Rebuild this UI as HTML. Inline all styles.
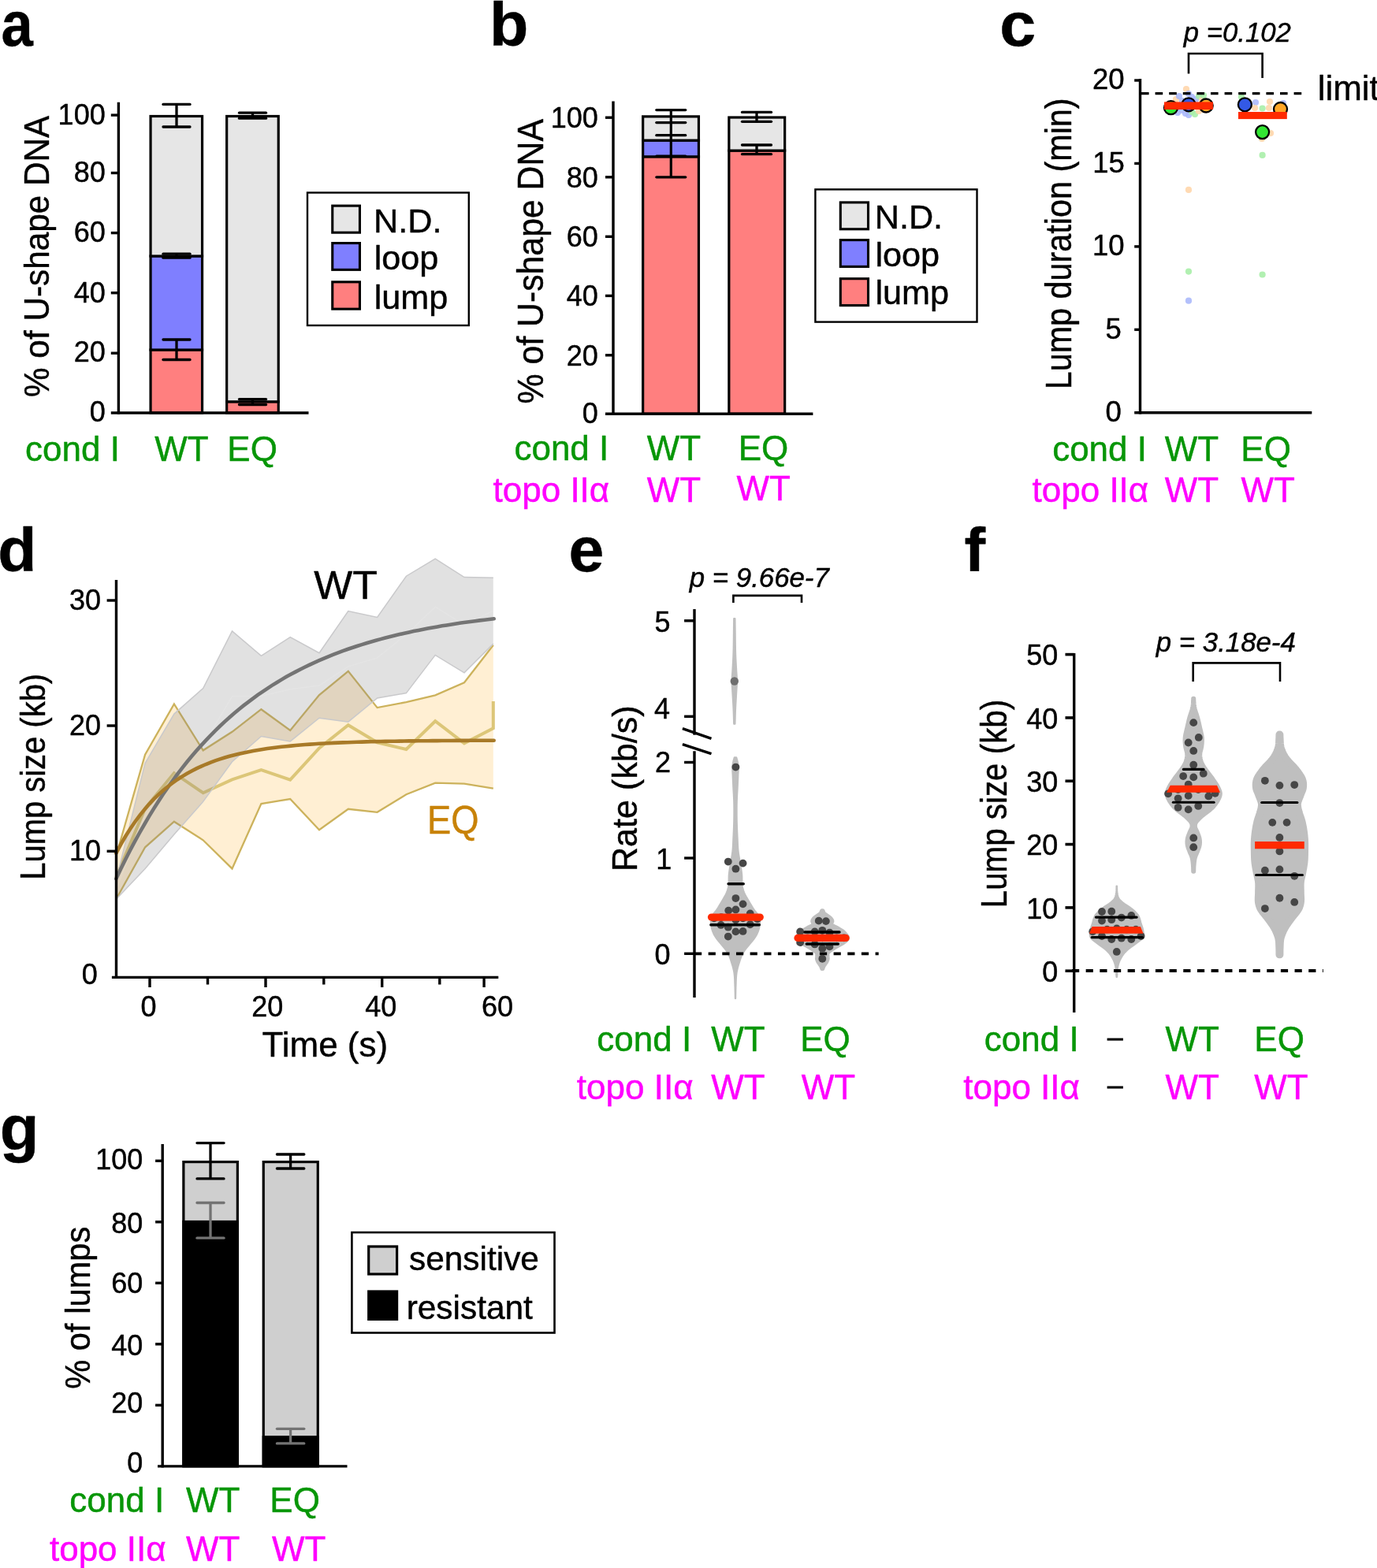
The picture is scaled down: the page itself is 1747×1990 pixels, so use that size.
<!DOCTYPE html>
<html lang="en"><head><meta charset="utf-8"><title>Figure</title>
<style>
html,body{margin:0;padding:0;background:#fff;}
body{width:1747px;height:1990px;overflow:hidden;}
svg{display:block;}
svg text{font-family:"Liberation Sans",sans-serif;white-space:pre;stroke-width:0.45px;stroke-linejoin:round;}
</style></head><body>
<svg width="1747" height="1990" viewBox="0 0 1747 1990">
<rect x="0" y="0" width="1747" height="1990" fill="#fff"/>
<g id="panel-a">
<text transform="translate(1.43,58.00) scale(0.9050,1)" font-size="80.00" fill="#000" stroke="#000" font-weight="bold">a</text>
<rect x="191.05" y="444.00" width="65.50" height="80.00" fill="#ff7f7f" stroke="#000" stroke-width="3.2"/>
<rect x="191.05" y="325.00" width="65.50" height="119.00" fill="#7f7fff" stroke="#000" stroke-width="3.2"/>
<rect x="191.05" y="147.50" width="65.50" height="177.50" fill="#e6e6e6" stroke="#000" stroke-width="3.2"/>
<rect x="287.65" y="509.80" width="65.60" height="14.20" fill="#ff7f7f" stroke="#000" stroke-width="3.2"/>
<rect x="287.65" y="147.50" width="65.60" height="362.30" fill="#e6e6e6" stroke="#000" stroke-width="3.2"/>
<line x1="224.00" y1="132.40" x2="224.00" y2="161.00" stroke="#000" stroke-width="3.3" stroke-linecap="butt"/>
<line x1="207.00" y1="132.40" x2="241.00" y2="132.40" stroke="#000" stroke-width="3.3" stroke-linecap="round"/>
<line x1="207.00" y1="161.00" x2="241.00" y2="161.00" stroke="#000" stroke-width="3.3" stroke-linecap="round"/>
<line x1="224.00" y1="322.20" x2="224.00" y2="327.20" stroke="#000" stroke-width="3.3" stroke-linecap="butt"/>
<line x1="207.00" y1="322.20" x2="241.00" y2="322.20" stroke="#000" stroke-width="3.3" stroke-linecap="round"/>
<line x1="207.00" y1="327.20" x2="241.00" y2="327.20" stroke="#000" stroke-width="3.3" stroke-linecap="round"/>
<line x1="224.00" y1="431.00" x2="224.00" y2="456.50" stroke="#000" stroke-width="3.3" stroke-linecap="butt"/>
<line x1="207.00" y1="431.00" x2="241.00" y2="431.00" stroke="#000" stroke-width="3.3" stroke-linecap="round"/>
<line x1="207.00" y1="456.50" x2="241.00" y2="456.50" stroke="#000" stroke-width="3.3" stroke-linecap="round"/>
<line x1="320.50" y1="143.20" x2="320.50" y2="150.20" stroke="#000" stroke-width="3.3" stroke-linecap="butt"/>
<line x1="303.50" y1="143.20" x2="337.50" y2="143.20" stroke="#000" stroke-width="3.3" stroke-linecap="round"/>
<line x1="303.50" y1="150.20" x2="337.50" y2="150.20" stroke="#000" stroke-width="3.3" stroke-linecap="round"/>
<line x1="320.50" y1="506.60" x2="320.50" y2="513.50" stroke="#000" stroke-width="3.3" stroke-linecap="butt"/>
<line x1="303.50" y1="506.60" x2="337.50" y2="506.60" stroke="#000" stroke-width="3.3" stroke-linecap="round"/>
<line x1="303.50" y1="513.50" x2="337.50" y2="513.50" stroke="#000" stroke-width="3.3" stroke-linecap="round"/>
<line x1="150.40" y1="129.80" x2="150.40" y2="525.70" stroke="#000" stroke-width="3.4" stroke-linecap="butt"/>
<line x1="140.80" y1="524.00" x2="391.50" y2="524.00" stroke="#000" stroke-width="3.4" stroke-linecap="butt"/>
<line x1="140.80" y1="448.20" x2="150.40" y2="448.20" stroke="#000" stroke-width="3.4" stroke-linecap="butt"/>
<line x1="140.80" y1="371.70" x2="150.40" y2="371.70" stroke="#000" stroke-width="3.4" stroke-linecap="butt"/>
<line x1="140.80" y1="295.60" x2="150.40" y2="295.60" stroke="#000" stroke-width="3.4" stroke-linecap="butt"/>
<line x1="140.80" y1="219.50" x2="150.40" y2="219.50" stroke="#000" stroke-width="3.4" stroke-linecap="butt"/>
<line x1="140.80" y1="146.10" x2="150.40" y2="146.10" stroke="#000" stroke-width="3.4" stroke-linecap="butt"/>
<text x="113.67" y="535.08" font-size="36.00" fill="#000" stroke="#000">0</text>
<text x="93.69" y="459.08" font-size="36.00" fill="#000" stroke="#000">20</text>
<text x="93.69" y="383.58" font-size="36.00" fill="#000" stroke="#000">40</text>
<text x="93.69" y="306.78" font-size="36.00" fill="#000" stroke="#000">60</text>
<text x="93.69" y="231.18" font-size="36.00" fill="#000" stroke="#000">80</text>
<text x="73.62" y="158.48" font-size="36.00" fill="#000" stroke="#000">100</text>
<text transform="translate(62.00,503.98) rotate(-90) scale(0.9339,1)" font-size="45.30" fill="#000" stroke="#000">% of U-shape DNA</text>
<text x="32.03" y="584.70" font-size="44.00" fill="#089608" stroke="#089608">cond I</text>
<text x="196.18" y="584.70" font-size="44.00" fill="#089608" stroke="#089608">WT</text>
<text x="288.37" y="584.70" font-size="44.00" fill="#089608" stroke="#089608">EQ</text>
<rect x="390.00" y="244.50" width="204.80" height="168.50" fill="#fff" stroke="#000" stroke-width="2.4"/>
<rect x="421.75" y="261.15" width="34.70" height="34.00" fill="#e6e6e6" stroke="#000" stroke-width="3.1"/>
<rect x="421.75" y="308.55" width="34.70" height="33.80" fill="#7f7fff" stroke="#000" stroke-width="3.1"/>
<rect x="421.75" y="357.85" width="34.70" height="34.30" fill="#ff7f7f" stroke="#000" stroke-width="3.1"/>
<text x="474.04" y="294.50" font-size="43.20" fill="#000" stroke="#000">N.D.</text>
<text x="474.68" y="342.40" font-size="43.20" fill="#000" stroke="#000">loop</text>
<text x="474.68" y="391.80" font-size="43.20" fill="#000" stroke="#000">lump</text>
</g>
<g id="panel-b">
<text transform="translate(621.04,57.60) scale(1.0500,1)" font-size="77.00" fill="#000" stroke="#000" font-weight="bold">b</text>
<rect x="815.65" y="198.83" width="70.80" height="326.37" fill="#ff7f7f" stroke="#000" stroke-width="3.2"/>
<rect x="815.65" y="178.15" width="70.80" height="20.68" fill="#7f7fff" stroke="#000" stroke-width="3.2"/>
<rect x="815.65" y="147.88" width="70.80" height="30.27" fill="#e6e6e6" stroke="#000" stroke-width="3.2"/>
<rect x="924.85" y="191.12" width="70.80" height="334.08" fill="#ff7f7f" stroke="#000" stroke-width="3.2"/>
<rect x="924.85" y="149.01" width="70.80" height="42.11" fill="#e6e6e6" stroke="#000" stroke-width="3.2"/>
<line x1="851.30" y1="139.60" x2="851.30" y2="224.80" stroke="#000" stroke-width="3.2" stroke-linecap="butt"/>
<line x1="832.80" y1="139.60" x2="869.80" y2="139.60" stroke="#000" stroke-width="3.2" stroke-linecap="round"/>
<line x1="832.80" y1="155.60" x2="869.80" y2="155.60" stroke="#000" stroke-width="3.2" stroke-linecap="round"/>
<line x1="832.80" y1="171.70" x2="869.80" y2="171.70" stroke="#000" stroke-width="3.2" stroke-linecap="round"/>
<line x1="832.80" y1="198.00" x2="869.80" y2="198.00" stroke="#000" stroke-width="3.2" stroke-linecap="round"/>
<line x1="832.80" y1="224.80" x2="869.80" y2="224.80" stroke="#000" stroke-width="3.2" stroke-linecap="round"/>
<line x1="960.00" y1="142.40" x2="960.00" y2="154.30" stroke="#000" stroke-width="3.3" stroke-linecap="butt"/>
<line x1="941.50" y1="142.40" x2="978.50" y2="142.40" stroke="#000" stroke-width="3.3" stroke-linecap="round"/>
<line x1="941.50" y1="154.30" x2="978.50" y2="154.30" stroke="#000" stroke-width="3.3" stroke-linecap="round"/>
<line x1="960.00" y1="184.00" x2="960.00" y2="195.70" stroke="#000" stroke-width="3.3" stroke-linecap="butt"/>
<line x1="941.50" y1="184.00" x2="978.50" y2="184.00" stroke="#000" stroke-width="3.3" stroke-linecap="round"/>
<line x1="941.50" y1="195.70" x2="978.50" y2="195.70" stroke="#000" stroke-width="3.3" stroke-linecap="round"/>
<line x1="778.00" y1="128.60" x2="778.00" y2="526.90" stroke="#000" stroke-width="3.4" stroke-linecap="butt"/>
<line x1="768.00" y1="525.20" x2="1031.40" y2="525.20" stroke="#000" stroke-width="3.4" stroke-linecap="butt"/>
<line x1="768.00" y1="450.80" x2="778.00" y2="450.80" stroke="#000" stroke-width="3.4" stroke-linecap="butt"/>
<line x1="768.00" y1="375.40" x2="778.00" y2="375.40" stroke="#000" stroke-width="3.4" stroke-linecap="butt"/>
<line x1="768.00" y1="300.30" x2="778.00" y2="300.30" stroke="#000" stroke-width="3.4" stroke-linecap="butt"/>
<line x1="768.00" y1="224.80" x2="778.00" y2="224.80" stroke="#000" stroke-width="3.4" stroke-linecap="butt"/>
<line x1="768.00" y1="149.20" x2="778.00" y2="149.20" stroke="#000" stroke-width="3.4" stroke-linecap="butt"/>
<text x="738.77" y="537.28" font-size="36.00" fill="#000" stroke="#000">0</text>
<text x="718.79" y="463.68" font-size="36.00" fill="#000" stroke="#000">20</text>
<text x="718.79" y="388.18" font-size="36.00" fill="#000" stroke="#000">40</text>
<text x="718.79" y="312.98" font-size="36.00" fill="#000" stroke="#000">60</text>
<text x="718.79" y="237.68" font-size="36.00" fill="#000" stroke="#000">80</text>
<text x="698.72" y="161.98" font-size="36.00" fill="#000" stroke="#000">100</text>
<text transform="translate(689.20,512.40) rotate(-90) scale(0.9444,1)" font-size="45.30" fill="#000" stroke="#000">% of U-shape DNA</text>
<text x="652.43" y="584.30" font-size="44.00" fill="#089608" stroke="#089608">cond I</text>
<text x="820.78" y="584.30" font-size="44.00" fill="#089608" stroke="#089608">WT</text>
<text x="936.67" y="584.30" font-size="44.00" fill="#089608" stroke="#089608">EQ</text>
<text x="625.54" y="637.00" font-size="44.00" fill="#ff00ff" stroke="#ff00ff">topo IIα</text>
<text x="820.78" y="637.00" font-size="44.00" fill="#ff00ff" stroke="#ff00ff">WT</text>
<text x="934.58" y="635.10" font-size="44.00" fill="#ff00ff" stroke="#ff00ff">WT</text>
<rect x="1034.40" y="240.40" width="205.10" height="168.20" fill="#fff" stroke="#000" stroke-width="2.4"/>
<rect x="1066.30" y="256.90" width="35.20" height="33.90" fill="#e6e6e6" stroke="#000" stroke-width="3.1"/>
<rect x="1066.30" y="304.60" width="35.20" height="33.80" fill="#7f7fff" stroke="#000" stroke-width="3.1"/>
<rect x="1066.30" y="353.70" width="35.20" height="33.90" fill="#ff7f7f" stroke="#000" stroke-width="3.1"/>
<text x="1109.74" y="289.60" font-size="43.20" fill="#000" stroke="#000">N.D.</text>
<text x="1110.38" y="337.90" font-size="43.20" fill="#000" stroke="#000">loop</text>
<text x="1110.38" y="386.30" font-size="43.20" fill="#000" stroke="#000">lump</text>
</g>
<g id="panel-c">
<text transform="translate(1268.29,57.80) scale(1.0500,1)" font-size="78.70" fill="#000" stroke="#000" font-weight="bold">c</text>
<circle cx="1492.00" cy="126.00" r="4.10" fill="#ffd5a8" fill-opacity="0.88"/>
<circle cx="1496.00" cy="122.00" r="4.10" fill="#a9b7fa" fill-opacity="0.88"/>
<circle cx="1500.00" cy="128.00" r="4.10" fill="#a9b7fa" fill-opacity="0.88"/>
<circle cx="1505.00" cy="113.00" r="4.10" fill="#ffd5a8" fill-opacity="0.88"/>
<circle cx="1508.00" cy="119.00" r="4.10" fill="#a9b7fa" fill-opacity="0.88"/>
<circle cx="1512.00" cy="123.00" r="4.10" fill="#a9b7fa" fill-opacity="0.88"/>
<circle cx="1517.00" cy="126.00" r="4.10" fill="#a9b7fa" fill-opacity="0.88"/>
<circle cx="1521.00" cy="122.00" r="4.10" fill="#a6eea6" fill-opacity="0.88"/>
<circle cx="1525.00" cy="127.00" r="4.10" fill="#ffd5a8" fill-opacity="0.88"/>
<circle cx="1494.00" cy="143.00" r="4.10" fill="#a9b7fa" fill-opacity="0.88"/>
<circle cx="1499.00" cy="140.00" r="4.10" fill="#a9b7fa" fill-opacity="0.88"/>
<circle cx="1504.00" cy="144.00" r="4.10" fill="#a9b7fa" fill-opacity="0.88"/>
<circle cx="1508.00" cy="146.00" r="4.10" fill="#a9b7fa" fill-opacity="0.88"/>
<circle cx="1512.00" cy="142.00" r="4.10" fill="#a6eea6" fill-opacity="0.88"/>
<circle cx="1516.00" cy="145.00" r="4.10" fill="#a6eea6" fill-opacity="0.88"/>
<circle cx="1521.00" cy="141.00" r="4.10" fill="#ffd5a8" fill-opacity="0.88"/>
<circle cx="1526.00" cy="139.00" r="4.10" fill="#ffd5a8" fill-opacity="0.88"/>
<circle cx="1489.00" cy="131.00" r="4.10" fill="#ffd5a8" fill-opacity="0.88"/>
<circle cx="1527.00" cy="121.00" r="4.10" fill="#a6eea6" fill-opacity="0.88"/>
<circle cx="1508.00" cy="240.90" r="4.10" fill="#ffd5a8" fill-opacity="0.88"/>
<circle cx="1508.00" cy="344.60" r="4.10" fill="#a6eea6" fill-opacity="0.88"/>
<circle cx="1508.00" cy="381.70" r="4.10" fill="#a9b7fa" fill-opacity="0.88"/>
<circle cx="1575.00" cy="123.00" r="4.10" fill="#a6eea6" fill-opacity="0.88"/>
<circle cx="1593.00" cy="130.00" r="4.10" fill="#a9b7fa" fill-opacity="0.88"/>
<circle cx="1611.00" cy="129.00" r="4.10" fill="#ffd5a8" fill-opacity="0.88"/>
<circle cx="1592.00" cy="137.00" r="4.10" fill="#ffd5a8" fill-opacity="0.88"/>
<circle cx="1601.60" cy="137.50" r="4.10" fill="#a6eea6" fill-opacity="0.88"/>
<circle cx="1610.00" cy="137.00" r="4.10" fill="#ffd5a8" fill-opacity="0.88"/>
<circle cx="1628.00" cy="131.00" r="4.10" fill="#a9b7fa" fill-opacity="0.88"/>
<circle cx="1605.00" cy="170.00" r="4.10" fill="#ffd5a8" fill-opacity="0.88"/>
<circle cx="1612.00" cy="169.00" r="4.10" fill="#ffd5a8" fill-opacity="0.88"/>
<circle cx="1601.00" cy="176.00" r="4.10" fill="#ffd5a8" fill-opacity="0.88"/>
<circle cx="1601.60" cy="196.90" r="4.10" fill="#a6eea6" fill-opacity="0.88"/>
<circle cx="1601.60" cy="348.50" r="4.10" fill="#a6eea6" fill-opacity="0.88"/>
<line x1="1448.00" y1="118.60" x2="1651.50" y2="118.60" stroke="#000" stroke-width="3.2" stroke-linecap="butt" stroke-dasharray="9.6 8.0"/>
<circle cx="1485.50" cy="136.70" r="8.50" fill="#33e633" stroke="#000" stroke-width="2.3"/>
<circle cx="1508.00" cy="132.80" r="8.50" fill="#3359e6" stroke="#000" stroke-width="2.3"/>
<circle cx="1530.20" cy="134.00" r="8.50" fill="#ffa626" stroke="#000" stroke-width="2.3"/>
<circle cx="1579.40" cy="132.80" r="8.50" fill="#3359e6" stroke="#000" stroke-width="2.3"/>
<circle cx="1624.50" cy="138.50" r="8.50" fill="#ffa626" stroke="#000" stroke-width="2.3"/>
<circle cx="1601.60" cy="167.60" r="8.50" fill="#33e633" stroke="#000" stroke-width="2.3"/>
<rect x="1477.00" y="129.40" width="61.90" height="9.60" fill="#ff2a00"/>
<rect x="1571.00" y="142.00" width="61.80" height="9.10" fill="#ff2a00"/>
<path d="M1508,93.6 V68 H1601.6 V99.0" fill="none" stroke="#000" stroke-width="2.6"/>
<text x="1501.87" y="52.90" font-size="34.70" fill="#000" stroke="#000" font-style="italic">p =0.102</text>
<text x="1671.63" y="127.20" font-size="44.00" fill="#000" stroke="#000">limit</text>
<line x1="1446.50" y1="100.00" x2="1446.50" y2="525.50" stroke="#000" stroke-width="3.4" stroke-linecap="butt"/>
<line x1="1439.20" y1="523.80" x2="1664.30" y2="523.80" stroke="#000" stroke-width="3.4" stroke-linecap="butt"/>
<line x1="1439.20" y1="418.35" x2="1446.50" y2="418.35" stroke="#000" stroke-width="3.4" stroke-linecap="butt"/>
<line x1="1439.20" y1="312.90" x2="1446.50" y2="312.90" stroke="#000" stroke-width="3.4" stroke-linecap="butt"/>
<line x1="1439.20" y1="207.45" x2="1446.50" y2="207.45" stroke="#000" stroke-width="3.4" stroke-linecap="butt"/>
<line x1="1439.20" y1="102.00" x2="1446.50" y2="102.00" stroke="#000" stroke-width="3.4" stroke-linecap="butt"/>
<text x="1402.41" y="535.16" font-size="36.50" fill="#000" stroke="#000">0</text>
<text x="1402.50" y="429.71" font-size="36.50" fill="#000" stroke="#000">5</text>
<text x="1386.05" y="324.26" font-size="36.50" fill="#000" stroke="#000">10</text>
<text x="1386.14" y="218.81" font-size="36.50" fill="#000" stroke="#000">15</text>
<text x="1386.05" y="113.36" font-size="36.50" fill="#000" stroke="#000">20</text>
<text transform="translate(1359.30,494.31) rotate(-90) scale(0.9126,1)" font-size="45.30" fill="#000" stroke="#000">Lump duration (min)</text>
<text x="1335.13" y="584.90" font-size="44.00" fill="#089608" stroke="#089608">cond I</text>
<text x="1477.68" y="584.90" font-size="44.00" fill="#089608" stroke="#089608">WT</text>
<text x="1574.37" y="584.90" font-size="44.00" fill="#089608" stroke="#089608">EQ</text>
<text x="1309.54" y="637.00" font-size="44.00" fill="#ff00ff" stroke="#ff00ff">topo IIα</text>
<text x="1477.68" y="637.00" font-size="44.00" fill="#ff00ff" stroke="#ff00ff">WT</text>
<text x="1574.58" y="637.00" font-size="44.00" fill="#ff00ff" stroke="#ff00ff">WT</text>
</g>
<g id="panel-d">
<text transform="translate(-2.73,725.00) scale(1.0400,1)" font-size="77.50" fill="#000" stroke="#000" font-weight="bold">d</text>
<path d="M147.3,1086.2 L184.1,957.7 L220.9,893.5 L257.7,952.3 L294.5,928.8 L331.4,900.2 L368.2,926.9 L405.0,882.0 L441.8,851.9 L478.6,898.1 L515.4,891.1 L552.2,882.4 L589.0,866.3 L625.8,818.7 L625.8,1000.7 L589.0,994.6 L552.2,993.6 L515.4,1008.3 L478.6,1030.8 L441.8,1026.8 L405.0,1053.3 L368.2,1014.0 L331.4,1020.1 L294.5,1102.4 L257.7,1066.3 L220.9,1042.7 L184.1,1075.3 L147.3,1141.3Z" fill="#ffefd3"/>
<path d="M147.3,1086.2 L184.1,957.7 L220.9,893.5 L257.7,952.3 L294.5,928.8 L331.4,900.2 L368.2,926.9 L405.0,882.0 L441.8,851.9 L478.6,898.1 L515.4,891.1 L552.2,882.4 L589.0,866.3 L625.8,818.7" fill="none" stroke="#ccb25c" stroke-width="2.3" stroke-linejoin="miter"/>
<path d="M147.3,1141.3 L184.1,1075.3 L220.9,1042.7 L257.7,1066.3 L294.5,1102.4 L331.4,1020.1 L368.2,1014.0 L405.0,1053.3 L441.8,1026.8 L478.6,1030.8 L515.4,1008.3 L552.2,993.6 L589.0,994.6 L625.8,1000.7" fill="none" stroke="#ccb25c" stroke-width="2.3" stroke-linejoin="miter"/>
<path d="M147.3,1113.3 L184.1,1026.0 L220.9,981.2 L257.7,1006.2 L294.5,989.4 L331.4,977.2 L368.2,989.7 L405.0,949.4 L441.8,920.2 L478.6,942.3 L515.4,951.0 L552.2,915.2 L589.0,943.4 L625.8,924.3 L625.8,890.1" fill="none" stroke="#dcc678" stroke-width="4.0" stroke-linejoin="miter"/>
<path d="M147.3,1116.9 L184.1,968.6 L220.9,906.1 L257.7,873.6 L294.5,801.0 L331.4,832.3 L368.2,808.6 L405.0,828.7 L441.8,775.5 L478.6,783.5 L515.4,731.2 L552.2,709.1 L589.0,732.6 L625.8,733.2 L625.8,817.1 L589.0,853.9 L552.2,831.4 L515.4,879.6 L478.6,886.0 L441.8,916.2 L405.0,911.2 L368.2,940.9 L331.4,934.5 L294.5,966.7 L257.7,1017.4 L220.9,1059.0 L184.1,1102.4 L147.3,1141.3Z" fill="#808080" fill-opacity="0.235"/>
<path d="M147.3,1116.9 L184.1,968.6 L220.9,906.1 L257.7,873.6 L294.5,801.0 L331.4,832.3 L368.2,808.6 L405.0,828.7 L441.8,775.5 L478.6,783.5 L515.4,731.2 L552.2,709.1 L589.0,732.6 L625.8,733.2" fill="none" stroke="#c9c9cb" stroke-width="1.5"/>
<path d="M147.3,1141.3 L184.1,1102.4 L220.9,1059.0 L257.7,1017.4 L294.5,966.7 L331.4,934.5 L368.2,940.9 L405.0,911.2 L441.8,916.2 L478.6,886.0 L515.4,879.6 L552.2,831.4 L589.0,853.9 L625.8,817.1" fill="none" stroke="#c9c9cb" stroke-width="1.5"/>
<path d="M147.3,1129.1 L184.1,1035.5 L220.9,982.5 L257.7,945.5 L294.5,883.9 L331.4,883.4 L368.2,874.8 L405.0,870.0 L441.8,845.9 L478.6,834.8 L515.4,805.4 L552.2,770.2 L589.0,793.2 L625.8,775.2" fill="none" stroke="#ffffff" stroke-width="1.4" stroke-opacity="0.13"/>
<path d="M147.3,1115.3 L153.3,1102.6 L159.3,1090.4 L165.3,1078.7 L171.3,1067.4 L177.3,1056.5 L183.3,1046.0 L189.2,1035.9 L195.2,1026.1 L201.2,1016.7 L207.2,1007.6 L213.2,998.9 L219.2,990.5 L225.2,982.4 L231.2,974.6 L237.2,967.0 L243.2,959.8 L249.2,952.8 L255.2,946.1 L261.2,939.6 L267.2,933.3 L273.1,927.3 L279.1,921.5 L285.1,915.9 L291.1,910.5 L297.1,905.3 L303.1,900.2 L309.1,895.4 L315.1,890.8 L321.1,886.3 L327.1,881.9 L333.1,877.8 L339.1,873.8 L345.1,869.9 L351.1,866.2 L357.0,862.6 L363.0,859.1 L369.0,855.8 L375.0,852.6 L381.0,849.5 L387.0,846.5 L393.0,843.6 L399.0,840.8 L405.0,838.2 L411.0,835.6 L417.0,833.1 L423.0,830.7 L429.0,828.4 L434.9,826.2 L440.9,824.0 L446.9,822.0 L452.9,820.0 L458.9,818.1 L464.9,816.2 L470.9,814.5 L476.9,812.7 L482.9,811.1 L488.9,809.5 L494.9,808.0 L500.9,806.5 L506.9,805.1 L512.9,803.7 L518.8,802.4 L524.8,801.1 L530.8,799.9 L536.8,798.7 L542.8,797.5 L548.8,796.4 L554.8,795.4 L560.8,794.3 L566.8,793.4 L572.8,792.4 L578.8,791.5 L584.8,790.6 L590.8,789.8 L596.8,789.0 L602.7,788.2 L608.7,787.4 L614.7,786.7 L620.7,786.0 L626.7,785.3" fill="none" stroke="#747474" stroke-width="4.6" stroke-linecap="round"/>
<path d="M147.3,1082.8 L153.3,1071.6 L159.3,1061.3 L165.3,1051.7 L171.3,1043.0 L177.3,1034.9 L183.3,1027.4 L189.2,1020.6 L195.2,1014.2 L201.2,1008.4 L207.2,1003.0 L213.2,998.0 L219.2,993.5 L225.2,989.2 L231.2,985.4 L237.2,981.8 L243.2,978.5 L249.2,975.4 L255.2,972.6 L261.2,970.0 L267.2,967.6 L273.1,965.4 L279.1,963.4 L285.1,961.5 L291.1,959.8 L297.1,958.2 L303.1,956.8 L309.1,955.4 L315.1,954.2 L321.1,953.0 L327.1,952.0 L333.1,951.0 L339.1,950.1 L345.1,949.3 L351.1,948.5 L357.0,947.8 L363.0,947.2 L369.0,946.6 L375.0,946.0 L381.0,945.5 L387.0,945.0 L393.0,944.6 L399.0,944.2 L405.0,943.8 L411.0,943.5 L417.0,943.2 L423.0,942.9 L429.0,942.6 L434.9,942.4 L440.9,942.2 L446.9,942.0 L452.9,941.8 L458.9,941.6 L464.9,941.4 L470.9,941.3 L476.9,941.1 L482.9,941.0 L488.9,940.9 L494.9,940.8 L500.9,940.7 L506.9,940.6 L512.9,940.5 L518.8,940.4 L524.8,940.4 L530.8,940.3 L536.8,940.2 L542.8,940.2 L548.8,940.1 L554.8,940.1 L560.8,940.0 L566.8,940.0 L572.8,940.0 L578.8,939.9 L584.8,939.9 L590.8,939.9 L596.8,939.8 L602.7,939.8 L608.7,939.8 L614.7,939.8 L620.7,939.7 L626.7,939.7" fill="none" stroke="#a87a28" stroke-width="4.6" stroke-linecap="round"/>
<text transform="translate(398.24,759.70) scale(1.0300,1)" font-size="50.40" fill="#000" stroke="#000">WT</text>
<text transform="translate(542.06,1058.00) scale(0.9000,1)" font-size="50.40" fill="#c88208" stroke="#c88208">EQ</text>
<line x1="147.50" y1="736.10" x2="147.50" y2="1242.10" stroke="#000" stroke-width="3.4" stroke-linecap="butt"/>
<line x1="141.90" y1="1240.40" x2="632.30" y2="1240.40" stroke="#000" stroke-width="3.4" stroke-linecap="butt"/>
<line x1="135.60" y1="1080.30" x2="147.50" y2="1080.30" stroke="#000" stroke-width="3.4" stroke-linecap="butt"/>
<line x1="135.60" y1="921.00" x2="147.50" y2="921.00" stroke="#000" stroke-width="3.4" stroke-linecap="butt"/>
<line x1="135.60" y1="762.00" x2="147.50" y2="762.00" stroke="#000" stroke-width="3.4" stroke-linecap="butt"/>
<text x="103.67" y="1248.50" font-size="36.00" fill="#000" stroke="#000">0</text>
<text x="87.99" y="1091.80" font-size="36.00" fill="#000" stroke="#000">10</text>
<text x="87.99" y="932.50" font-size="36.00" fill="#000" stroke="#000">20</text>
<text x="87.99" y="773.50" font-size="36.00" fill="#000" stroke="#000">30</text>
<line x1="190.00" y1="1240.40" x2="190.00" y2="1253.00" stroke="#000" stroke-width="3.4" stroke-linecap="butt"/>
<line x1="263.50" y1="1240.40" x2="263.50" y2="1249.50" stroke="#000" stroke-width="3.4" stroke-linecap="butt"/>
<line x1="337.00" y1="1240.40" x2="337.00" y2="1253.00" stroke="#000" stroke-width="3.4" stroke-linecap="butt"/>
<line x1="410.80" y1="1240.40" x2="410.80" y2="1249.50" stroke="#000" stroke-width="3.4" stroke-linecap="butt"/>
<line x1="484.70" y1="1240.40" x2="484.70" y2="1253.00" stroke="#000" stroke-width="3.4" stroke-linecap="butt"/>
<line x1="557.80" y1="1240.40" x2="557.80" y2="1249.50" stroke="#000" stroke-width="3.4" stroke-linecap="butt"/>
<line x1="614.10" y1="1240.40" x2="614.10" y2="1253.00" stroke="#000" stroke-width="3.4" stroke-linecap="butt"/>
<text x="178.56" y="1289.70" font-size="36.00" fill="#000" stroke="#000">0</text>
<text x="319.19" y="1289.70" font-size="36.00" fill="#000" stroke="#000">20</text>
<text x="463.29" y="1289.70" font-size="36.00" fill="#000" stroke="#000">40</text>
<text x="611.09" y="1289.70" font-size="36.00" fill="#000" stroke="#000">60</text>
<text x="332.51" y="1340.50" font-size="44.00" fill="#000" stroke="#000">Time (s)</text>
<text transform="translate(57.40,1116.80) rotate(-90) scale(0.8820,1)" font-size="45.30" fill="#000" stroke="#000">Lump size (kb)</text>
</g>
<g id="panel-e">
<text transform="translate(721.58,725.00) scale(1.0200,1)" font-size="79.00" fill="#000" stroke="#000" font-weight="bold">e</text>
<path d="M932.50,784.90 L932.52,786.40 L932.54,787.90 L932.56,789.40 L932.58,790.90 L932.60,792.40 L932.62,793.90 L932.64,795.40 L932.66,796.90 L932.68,798.40 L932.70,799.90 L932.72,801.40 L932.74,802.90 L932.76,804.40 L932.78,805.90 L932.79,807.40 L932.81,808.90 L932.83,810.40 L932.84,811.90 L932.86,813.40 L932.88,814.90 L932.90,816.40 L932.92,817.90 L932.95,819.40 L932.97,820.90 L933.00,822.40 L933.03,823.90 L933.07,825.40 L933.11,826.90 L933.15,828.40 L933.20,829.90 L933.25,831.40 L933.31,832.90 L933.37,834.40 L933.44,835.90 L933.52,837.40 L933.59,838.90 L933.67,840.40 L933.76,841.90 L933.84,843.40 L933.92,844.90 L934.00,846.40 L934.09,847.90 L934.17,849.40 L934.25,850.90 L934.35,852.40 L934.45,853.90 L934.56,855.40 L934.67,856.90 L934.77,858.40 L934.86,859.90 L934.93,861.40 L934.98,862.90 L935.00,864.40 L934.99,865.90 L934.95,867.40 L934.89,868.90 L934.82,870.40 L934.73,871.90 L934.63,873.40 L934.53,874.90 L934.42,876.40 L934.32,877.90 L934.23,879.40 L934.15,880.90 L934.07,882.40 L933.98,883.90 L933.90,885.40 L933.81,886.90 L933.72,888.40 L933.63,889.90 L933.54,891.40 L933.46,892.90 L933.38,894.40 L933.30,895.90 L933.22,897.40 L933.15,898.90 L933.08,900.40 L933.02,901.90 L932.96,903.40 L932.91,904.90 L932.86,906.40 L932.82,907.90 L932.77,909.40 L932.73,910.90 L932.69,912.40 L932.64,913.90 L932.60,915.40 L932.56,916.90 L932.51,918.40 L932.50,918.70 L931.10,918.70 L931.09,918.40 L931.04,916.90 L931.00,915.40 L930.96,913.90 L930.91,912.40 L930.87,910.90 L930.83,909.40 L930.78,907.90 L930.74,906.40 L930.69,904.90 L930.64,903.40 L930.58,901.90 L930.52,900.40 L930.45,898.90 L930.38,897.40 L930.30,895.90 L930.22,894.40 L930.14,892.90 L930.06,891.40 L929.97,889.90 L929.88,888.40 L929.79,886.90 L929.70,885.40 L929.62,883.90 L929.53,882.40 L929.45,880.90 L929.37,879.40 L929.28,877.90 L929.18,876.40 L929.07,874.90 L928.97,873.40 L928.87,871.90 L928.78,870.40 L928.71,868.90 L928.65,867.40 L928.61,865.90 L928.60,864.40 L928.62,862.90 L928.67,861.40 L928.74,859.90 L928.83,858.40 L928.93,856.90 L929.04,855.40 L929.15,853.90 L929.25,852.40 L929.35,850.90 L929.43,849.40 L929.51,847.90 L929.60,846.40 L929.68,844.90 L929.76,843.40 L929.84,841.90 L929.93,840.40 L930.01,838.90 L930.08,837.40 L930.16,835.90 L930.23,834.40 L930.29,832.90 L930.35,831.40 L930.40,829.90 L930.45,828.40 L930.49,826.90 L930.53,825.40 L930.57,823.90 L930.60,822.40 L930.63,820.90 L930.65,819.40 L930.68,817.90 L930.70,816.40 L930.72,814.90 L930.74,813.40 L930.76,811.90 L930.77,810.40 L930.79,808.90 L930.81,807.40 L930.82,805.90 L930.84,804.40 L930.86,802.90 L930.88,801.40 L930.90,799.90 L930.92,798.40 L930.94,796.90 L930.96,795.40 L930.98,793.90 L931.00,792.40 L931.02,790.90 L931.04,789.40 L931.06,787.90 L931.08,786.40 L931.10,784.90Z" fill="#bfbfbf" stroke="#bfbfbf" stroke-width="2.0" stroke-linejoin="round"/>
<circle cx="931.80" cy="864.50" r="5.20" fill="#6e6e6e"/>
<path d="M934.20,961.40 L934.64,962.90 L935.09,964.40 L935.48,965.90 L935.80,967.40 L936.09,968.90 L936.33,970.40 L936.52,971.90 L936.63,973.40 L936.67,974.90 L936.66,976.40 L936.62,977.90 L936.54,979.40 L936.45,980.90 L936.37,982.40 L936.30,983.90 L936.25,985.40 L936.19,986.90 L936.13,988.40 L936.07,989.90 L936.00,991.40 L935.93,992.90 L935.86,994.40 L935.80,995.90 L935.72,997.40 L935.65,998.90 L935.57,1000.40 L935.49,1001.90 L935.40,1003.40 L935.32,1004.90 L935.24,1006.40 L935.15,1007.90 L935.07,1009.40 L935.00,1010.90 L934.93,1012.40 L934.86,1013.90 L934.80,1015.40 L934.75,1016.90 L934.71,1018.40 L934.67,1019.90 L934.64,1021.40 L934.62,1022.90 L934.60,1024.40 L934.59,1025.90 L934.58,1027.40 L934.58,1028.90 L934.58,1030.40 L934.58,1031.90 L934.59,1033.40 L934.60,1034.90 L934.62,1036.40 L934.64,1037.90 L934.66,1039.40 L934.69,1040.90 L934.72,1042.40 L934.75,1043.90 L934.79,1045.40 L934.84,1046.90 L934.89,1048.40 L934.94,1049.90 L935.00,1051.40 L935.06,1052.90 L935.12,1054.40 L935.19,1055.90 L935.26,1057.40 L935.33,1058.90 L935.40,1060.40 L935.47,1061.90 L935.55,1063.40 L935.62,1064.90 L935.69,1066.40 L935.75,1067.90 L935.81,1069.40 L935.87,1070.90 L935.94,1072.40 L936.02,1073.90 L936.11,1075.40 L936.21,1076.90 L936.34,1078.40 L936.49,1079.90 L936.67,1081.40 L936.87,1082.90 L937.10,1084.40 L937.35,1085.90 L937.61,1087.40 L937.87,1088.90 L938.14,1090.40 L938.40,1091.90 L938.66,1093.40 L938.90,1094.90 L939.14,1096.40 L939.38,1097.90 L939.63,1099.40 L939.88,1100.90 L940.12,1102.40 L940.35,1103.90 L940.57,1105.40 L940.78,1106.90 L940.96,1108.40 L941.11,1109.90 L941.21,1111.40 L941.27,1112.90 L941.29,1114.40 L941.28,1115.90 L941.28,1117.40 L941.28,1118.90 L941.32,1120.40 L941.40,1121.90 L941.53,1123.40 L941.75,1124.90 L942.04,1126.40 L942.41,1127.90 L942.85,1129.40 L943.35,1130.90 L943.92,1132.40 L944.57,1133.90 L945.30,1135.40 L946.09,1136.90 L946.90,1138.40 L947.72,1139.90 L948.56,1141.40 L949.44,1142.90 L950.33,1144.40 L951.23,1145.90 L952.14,1147.40 L953.04,1148.90 L953.94,1150.40 L954.86,1151.90 L955.83,1153.40 L956.86,1154.90 L958.03,1156.40 L959.30,1157.90 L960.57,1159.40 L961.75,1160.90 L962.74,1162.40 L963.44,1163.90 L963.84,1165.40 L964.03,1166.90 L964.08,1168.40 L964.11,1169.90 L964.06,1171.40 L963.93,1172.90 L963.73,1174.40 L963.46,1175.90 L963.15,1177.40 L962.78,1178.90 L962.34,1180.40 L961.84,1181.90 L961.25,1183.40 L960.57,1184.90 L959.79,1186.40 L958.93,1187.90 L957.99,1189.40 L956.99,1190.90 L955.92,1192.40 L954.75,1193.90 L953.51,1195.40 L952.24,1196.90 L950.99,1198.40 L949.76,1199.90 L948.51,1201.40 L947.25,1202.90 L946.04,1204.40 L944.91,1205.90 L943.91,1207.40 L943.01,1208.90 L942.18,1210.40 L941.43,1211.90 L940.72,1213.40 L940.08,1214.90 L939.51,1216.40 L939.00,1217.90 L938.53,1219.40 L938.06,1220.90 L937.58,1222.40 L937.10,1223.90 L936.64,1225.40 L936.20,1226.90 L935.80,1228.40 L935.44,1229.90 L935.11,1231.40 L934.82,1232.90 L934.56,1234.40 L934.35,1235.90 L934.18,1237.40 L934.04,1238.90 L933.92,1240.40 L933.83,1241.90 L933.76,1243.40 L933.70,1244.90 L933.65,1246.40 L933.61,1247.90 L933.56,1249.40 L933.50,1250.90 L933.45,1252.40 L933.40,1253.90 L933.36,1255.40 L933.32,1256.90 L933.28,1258.40 L933.25,1259.90 L933.22,1261.40 L933.19,1262.90 L933.16,1264.40 L933.13,1265.90 L933.10,1267.10 L932.90,1267.10 L932.87,1265.90 L932.84,1264.40 L932.81,1262.90 L932.78,1261.40 L932.75,1259.90 L932.72,1258.40 L932.68,1256.90 L932.64,1255.40 L932.60,1253.90 L932.55,1252.40 L932.50,1250.90 L932.44,1249.40 L932.39,1247.90 L932.35,1246.40 L932.30,1244.90 L932.24,1243.40 L932.17,1241.90 L932.08,1240.40 L931.96,1238.90 L931.82,1237.40 L931.65,1235.90 L931.44,1234.40 L931.18,1232.90 L930.89,1231.40 L930.56,1229.90 L930.20,1228.40 L929.80,1226.90 L929.36,1225.40 L928.90,1223.90 L928.42,1222.40 L927.94,1220.90 L927.47,1219.40 L927.00,1217.90 L926.49,1216.40 L925.92,1214.90 L925.28,1213.40 L924.57,1211.90 L923.82,1210.40 L922.99,1208.90 L922.09,1207.40 L921.09,1205.90 L919.96,1204.40 L918.75,1202.90 L917.49,1201.40 L916.24,1199.90 L915.01,1198.40 L913.76,1196.90 L912.49,1195.40 L911.25,1193.90 L910.08,1192.40 L909.01,1190.90 L908.01,1189.40 L907.07,1187.90 L906.21,1186.40 L905.43,1184.90 L904.75,1183.40 L904.16,1181.90 L903.66,1180.40 L903.22,1178.90 L902.85,1177.40 L902.54,1175.90 L902.27,1174.40 L902.07,1172.90 L901.94,1171.40 L901.89,1169.90 L901.92,1168.40 L901.97,1166.90 L902.16,1165.40 L902.56,1163.90 L903.26,1162.40 L904.25,1160.90 L905.43,1159.40 L906.70,1157.90 L907.97,1156.40 L909.14,1154.90 L910.17,1153.40 L911.14,1151.90 L912.06,1150.40 L912.96,1148.90 L913.86,1147.40 L914.77,1145.90 L915.67,1144.40 L916.56,1142.90 L917.44,1141.40 L918.28,1139.90 L919.10,1138.40 L919.91,1136.90 L920.70,1135.40 L921.43,1133.90 L922.08,1132.40 L922.65,1130.90 L923.15,1129.40 L923.59,1127.90 L923.96,1126.40 L924.25,1124.90 L924.47,1123.40 L924.60,1121.90 L924.68,1120.40 L924.72,1118.90 L924.72,1117.40 L924.72,1115.90 L924.71,1114.40 L924.73,1112.90 L924.79,1111.40 L924.89,1109.90 L925.04,1108.40 L925.22,1106.90 L925.43,1105.40 L925.65,1103.90 L925.88,1102.40 L926.12,1100.90 L926.37,1099.40 L926.62,1097.90 L926.86,1096.40 L927.10,1094.90 L927.34,1093.40 L927.60,1091.90 L927.86,1090.40 L928.13,1088.90 L928.39,1087.40 L928.65,1085.90 L928.90,1084.40 L929.13,1082.90 L929.33,1081.40 L929.51,1079.90 L929.66,1078.40 L929.79,1076.90 L929.89,1075.40 L929.98,1073.90 L930.06,1072.40 L930.13,1070.90 L930.19,1069.40 L930.25,1067.90 L930.31,1066.40 L930.38,1064.90 L930.45,1063.40 L930.53,1061.90 L930.60,1060.40 L930.67,1058.90 L930.74,1057.40 L930.81,1055.90 L930.88,1054.40 L930.94,1052.90 L931.00,1051.40 L931.06,1049.90 L931.11,1048.40 L931.16,1046.90 L931.21,1045.40 L931.25,1043.90 L931.28,1042.40 L931.31,1040.90 L931.34,1039.40 L931.36,1037.90 L931.38,1036.40 L931.40,1034.90 L931.41,1033.40 L931.42,1031.90 L931.42,1030.40 L931.42,1028.90 L931.42,1027.40 L931.41,1025.90 L931.40,1024.40 L931.38,1022.90 L931.36,1021.40 L931.33,1019.90 L931.29,1018.40 L931.25,1016.90 L931.20,1015.40 L931.14,1013.90 L931.07,1012.40 L931.00,1010.90 L930.93,1009.40 L930.85,1007.90 L930.76,1006.40 L930.68,1004.90 L930.60,1003.40 L930.51,1001.90 L930.43,1000.40 L930.35,998.90 L930.28,997.40 L930.20,995.90 L930.14,994.40 L930.07,992.90 L930.00,991.40 L929.93,989.90 L929.87,988.40 L929.81,986.90 L929.75,985.40 L929.70,983.90 L929.63,982.40 L929.55,980.90 L929.46,979.40 L929.38,977.90 L929.34,976.40 L929.33,974.90 L929.37,973.40 L929.48,971.90 L929.67,970.40 L929.91,968.90 L930.20,967.40 L930.52,965.90 L930.91,964.40 L931.36,962.90 L931.80,961.40Z" fill="#bfbfbf" stroke="#bfbfbf" stroke-width="2.2" stroke-linejoin="round"/>
<path d="M1044.01,1155.82 L1044.61,1157.32 L1045.15,1158.82 L1046.93,1160.32 L1049.08,1161.82 L1051.20,1163.32 L1053.19,1164.82 L1054.64,1166.32 L1055.64,1167.82 L1055.89,1169.32 L1055.26,1170.82 L1054.81,1172.32 L1054.90,1173.82 L1057.37,1175.32 L1060.53,1176.82 L1063.33,1178.32 L1066.03,1179.82 L1068.37,1181.32 L1070.25,1182.82 L1071.78,1184.32 L1073.07,1185.82 L1074.27,1187.32 L1075.23,1188.82 L1075.61,1190.32 L1075.08,1191.82 L1073.83,1193.32 L1072.23,1194.82 L1070.20,1196.32 L1067.85,1197.82 L1065.11,1199.32 L1062.37,1200.82 L1059.81,1202.32 L1057.35,1203.82 L1054.96,1205.32 L1052.71,1206.82 L1051.09,1208.32 L1050.16,1209.82 L1049.80,1211.32 L1049.92,1212.82 L1050.05,1214.32 L1050.22,1215.82 L1050.09,1217.32 L1049.64,1218.82 L1048.97,1220.32 L1048.01,1221.82 L1046.94,1223.32 L1045.96,1224.82 L1045.05,1226.32 L1044.32,1227.82 L1043.89,1229.32 L1043.78,1229.58 L1042.82,1229.58 L1042.71,1229.32 L1042.28,1227.82 L1041.55,1226.32 L1040.64,1224.82 L1039.66,1223.32 L1038.59,1221.82 L1037.63,1220.32 L1036.96,1218.82 L1036.51,1217.32 L1036.38,1215.82 L1036.55,1214.32 L1036.68,1212.82 L1036.80,1211.32 L1036.44,1209.82 L1035.51,1208.32 L1033.89,1206.82 L1031.64,1205.32 L1029.25,1203.82 L1026.79,1202.32 L1024.23,1200.82 L1021.49,1199.32 L1018.75,1197.82 L1016.40,1196.32 L1014.37,1194.82 L1012.77,1193.32 L1011.52,1191.82 L1010.99,1190.32 L1011.37,1188.82 L1012.33,1187.32 L1013.53,1185.82 L1014.82,1184.32 L1016.35,1182.82 L1018.23,1181.32 L1020.57,1179.82 L1023.27,1178.32 L1026.07,1176.82 L1029.23,1175.32 L1031.70,1173.82 L1031.79,1172.32 L1031.34,1170.82 L1030.71,1169.32 L1030.96,1167.82 L1031.96,1166.32 L1033.41,1164.82 L1035.40,1163.32 L1037.52,1161.82 L1039.67,1160.32 L1041.45,1158.82 L1041.99,1157.32 L1042.59,1155.82Z" fill="#bfbfbf" stroke="#bfbfbf" stroke-width="5.0" stroke-linejoin="round"/>
<line x1="881.00" y1="1210.30" x2="1114.70" y2="1210.30" stroke="#000" stroke-width="3.8" stroke-linecap="butt" stroke-dasharray="9.2 8.46"/>
<circle cx="933.41" cy="973.58" r="4.90" fill="#464646"/>
<circle cx="923.79" cy="1093.56" r="4.90" fill="#464646"/>
<circle cx="942.56" cy="1095.62" r="4.90" fill="#464646"/>
<circle cx="933.41" cy="1102.72" r="4.90" fill="#464646"/>
<circle cx="933.41" cy="1140.04" r="4.90" fill="#464646"/>
<circle cx="942.56" cy="1147.37" r="4.90" fill="#464646"/>
<circle cx="924.25" cy="1155.61" r="4.90" fill="#464646"/>
<circle cx="933.41" cy="1154.46" r="4.90" fill="#464646"/>
<circle cx="915.09" cy="1164.08" r="4.90" fill="#464646"/>
<circle cx="951.72" cy="1159.50" r="4.90" fill="#464646"/>
<circle cx="914.63" cy="1173.93" r="4.90" fill="#464646"/>
<circle cx="923.79" cy="1176.67" r="4.90" fill="#464646"/>
<circle cx="933.41" cy="1182.40" r="4.90" fill="#464646"/>
<circle cx="942.56" cy="1181.94" r="4.90" fill="#464646"/>
<circle cx="951.72" cy="1173.24" r="4.90" fill="#464646"/>
<circle cx="960.88" cy="1166.37" r="4.90" fill="#464646"/>
<circle cx="923.79" cy="1188.58" r="4.90" fill="#464646"/>
<circle cx="905.93" cy="1165.23" r="4.90" fill="#464646"/>
<circle cx="942.56" cy="1165.23" r="4.90" fill="#464646"/>
<circle cx="933.41" cy="1167.52" r="4.90" fill="#464646"/>
<circle cx="1038.73" cy="1168.66" r="4.90" fill="#464646"/>
<circle cx="1047.89" cy="1169.12" r="4.90" fill="#464646"/>
<circle cx="1015.15" cy="1182.40" r="4.90" fill="#464646"/>
<circle cx="1033.69" cy="1182.40" r="4.90" fill="#464646"/>
<circle cx="1043.31" cy="1180.80" r="4.90" fill="#464646"/>
<circle cx="1052.47" cy="1183.54" r="4.90" fill="#464646"/>
<circle cx="1015.15" cy="1196.14" r="4.90" fill="#464646"/>
<circle cx="1033.69" cy="1198.43" r="4.90" fill="#464646"/>
<circle cx="1043.31" cy="1203.69" r="4.90" fill="#464646"/>
<circle cx="1052.47" cy="1201.40" r="4.90" fill="#464646"/>
<circle cx="1043.31" cy="1216.74" r="4.90" fill="#464646"/>
<circle cx="1024.53" cy="1190.41" r="4.90" fill="#464646"/>
<circle cx="1061.63" cy="1190.41" r="4.90" fill="#464646"/>
<circle cx="1043.31" cy="1190.41" r="4.90" fill="#464646"/>
<circle cx="1070.78" cy="1190.41" r="4.90" fill="#464646"/>
<line x1="924.10" y1="1121.70" x2="943.20" y2="1121.70" stroke="#000" stroke-width="3.5" stroke-linecap="round"/>
<line x1="901.90" y1="1173.70" x2="963.30" y2="1173.70" stroke="#000" stroke-width="3.5" stroke-linecap="round"/>
<line x1="1021.00" y1="1182.90" x2="1065.00" y2="1182.90" stroke="#000" stroke-width="3.5" stroke-linecap="round"/>
<line x1="1023.30" y1="1198.00" x2="1063.30" y2="1198.00" stroke="#000" stroke-width="3.5" stroke-linecap="round"/>
<line x1="902.50" y1="1164.10" x2="964.30" y2="1164.10" stroke="#ff2a00" stroke-width="9.2" stroke-linecap="round"/>
<line x1="1012.00" y1="1190.40" x2="1073.10" y2="1190.40" stroke="#ff2a00" stroke-width="9.2" stroke-linecap="round"/>
<line x1="881.00" y1="773.10" x2="881.00" y2="932.70" stroke="#000" stroke-width="3.4" stroke-linecap="butt"/>
<line x1="881.00" y1="953.30" x2="881.00" y2="1266.00" stroke="#000" stroke-width="3.4" stroke-linecap="butt"/>
<line x1="865.90" y1="924.70" x2="902.50" y2="937.30" stroke="#000" stroke-width="3.5" stroke-linecap="butt"/>
<line x1="865.90" y1="944.60" x2="902.50" y2="956.70" stroke="#000" stroke-width="3.5" stroke-linecap="butt"/>
<line x1="868.10" y1="787.80" x2="881.00" y2="787.80" stroke="#000" stroke-width="3.4" stroke-linecap="butt"/>
<line x1="868.10" y1="909.30" x2="881.00" y2="909.30" stroke="#000" stroke-width="3.4" stroke-linecap="butt"/>
<line x1="868.10" y1="967.50" x2="881.00" y2="967.50" stroke="#000" stroke-width="3.4" stroke-linecap="butt"/>
<line x1="868.10" y1="1089.00" x2="881.00" y2="1089.00" stroke="#000" stroke-width="3.4" stroke-linecap="butt"/>
<line x1="868.10" y1="1210.30" x2="881.00" y2="1210.30" stroke="#000" stroke-width="3.4" stroke-linecap="butt"/>
<text x="830.56" y="802.18" font-size="36.00" fill="#000" stroke="#000">5</text>
<text x="830.11" y="911.68" font-size="36.00" fill="#000" stroke="#000">4</text>
<text x="830.92" y="980.38" font-size="36.00" fill="#000" stroke="#000">2</text>
<text x="832.33" y="1102.88" font-size="36.00" fill="#000" stroke="#000">1</text>
<text x="830.47" y="1223.78" font-size="36.00" fill="#000" stroke="#000">0</text>
<path d="M930.4,765.1 V755.9 H1017 V765.1" fill="none" stroke="#000" stroke-width="2.6"/>
<text x="874.77" y="745.00" font-size="34.80" fill="#000" stroke="#000" font-style="italic">p = 9.66e-7</text>
<text transform="translate(808.20,1106.05) rotate(-90) scale(0.9509,1)" font-size="45.30" fill="#000" stroke="#000">Rate (kb/s)</text>
<text x="757.33" y="1334.20" font-size="44.00" fill="#089608" stroke="#089608">cond I</text>
<text x="902.18" y="1334.20" font-size="44.00" fill="#089608" stroke="#089608">WT</text>
<text x="1015.27" y="1334.20" font-size="44.00" fill="#089608" stroke="#089608">EQ</text>
<text x="731.84" y="1395.30" font-size="44.00" fill="#ff00ff" stroke="#ff00ff">topo IIα</text>
<text x="902.18" y="1395.30" font-size="44.00" fill="#ff00ff" stroke="#ff00ff">WT</text>
<text x="1016.78" y="1395.30" font-size="44.00" fill="#ff00ff" stroke="#ff00ff">WT</text>
</g>
<g id="panel-f">
<text transform="translate(1223.40,725.00) scale(1.0300,1)" font-size="77.50" fill="#000" stroke="#000" font-weight="bold">f</text>
<path d="M1416.99,1124.65 L1417.03,1126.15 L1417.05,1127.65 L1417.08,1129.15 L1417.15,1130.65 L1417.30,1132.15 L1417.53,1133.65 L1417.75,1135.15 L1418.03,1136.65 L1418.45,1138.15 L1419.09,1139.65 L1420.03,1141.15 L1421.32,1142.65 L1422.90,1144.15 L1424.69,1145.65 L1426.76,1147.15 L1429.11,1148.65 L1431.46,1150.15 L1433.57,1151.65 L1435.56,1153.15 L1437.42,1154.65 L1439.13,1156.15 L1440.70,1157.65 L1442.14,1159.15 L1443.36,1160.65 L1444.32,1162.15 L1445.06,1163.65 L1445.65,1165.15 L1446.13,1166.65 L1446.54,1168.15 L1446.93,1169.65 L1447.33,1171.15 L1447.80,1172.65 L1448.30,1174.15 L1448.81,1175.65 L1449.30,1177.15 L1449.74,1178.65 L1450.10,1180.15 L1450.35,1181.65 L1450.51,1183.15 L1450.67,1184.65 L1450.74,1186.15 L1450.62,1187.65 L1450.18,1189.15 L1449.31,1190.65 L1447.95,1192.15 L1446.23,1193.65 L1444.28,1195.15 L1442.26,1196.65 L1440.32,1198.15 L1438.33,1199.65 L1436.21,1201.15 L1434.09,1202.65 L1432.07,1204.15 L1430.26,1205.65 L1428.70,1207.15 L1427.30,1208.65 L1426.04,1210.15 L1424.90,1211.65 L1423.86,1213.15 L1422.92,1214.65 L1422.06,1216.15 L1421.28,1217.65 L1420.59,1219.15 L1419.98,1220.65 L1419.43,1222.15 L1418.95,1223.65 L1418.55,1225.15 L1418.23,1226.65 L1417.98,1228.15 L1417.79,1229.65 L1417.64,1231.15 L1417.53,1232.65 L1417.43,1234.15 L1417.34,1235.65 L1417.25,1237.15 L1417.13,1238.65 L1416.99,1240.01 L1416.57,1240.01 L1416.43,1238.65 L1416.32,1237.15 L1416.22,1235.65 L1416.13,1234.15 L1416.03,1232.65 L1415.92,1231.15 L1415.77,1229.65 L1415.58,1228.15 L1415.33,1226.65 L1415.01,1225.15 L1414.61,1223.65 L1414.13,1222.15 L1413.59,1220.65 L1412.97,1219.15 L1412.28,1217.65 L1411.50,1216.15 L1410.64,1214.65 L1409.70,1213.15 L1408.66,1211.65 L1407.52,1210.15 L1406.26,1208.65 L1404.86,1207.15 L1403.30,1205.65 L1401.49,1204.15 L1399.47,1202.65 L1397.35,1201.15 L1395.23,1199.65 L1393.24,1198.15 L1391.30,1196.65 L1389.28,1195.15 L1387.33,1193.65 L1385.61,1192.15 L1384.25,1190.65 L1383.38,1189.15 L1382.94,1187.65 L1382.82,1186.15 L1382.89,1184.65 L1383.05,1183.15 L1383.21,1181.65 L1383.46,1180.15 L1383.83,1178.65 L1384.26,1177.15 L1384.75,1175.65 L1385.26,1174.15 L1385.76,1172.65 L1386.23,1171.15 L1386.63,1169.65 L1387.02,1168.15 L1387.43,1166.65 L1387.91,1165.15 L1388.50,1163.65 L1389.24,1162.15 L1390.20,1160.65 L1391.42,1159.15 L1392.86,1157.65 L1394.43,1156.15 L1396.14,1154.65 L1398.00,1153.15 L1399.99,1151.65 L1402.10,1150.15 L1404.45,1148.65 L1406.80,1147.15 L1408.87,1145.65 L1410.66,1144.15 L1412.24,1142.65 L1413.53,1141.15 L1414.47,1139.65 L1415.11,1138.15 L1415.53,1136.65 L1415.81,1135.15 L1416.03,1133.65 L1416.26,1132.15 L1416.42,1130.65 L1416.48,1129.15 L1416.51,1127.65 L1416.53,1126.15 L1416.57,1124.65Z" fill="#bfbfbf" stroke="#bfbfbf" stroke-width="2.2" stroke-linejoin="round"/>
<path d="M1514.43,886.52 L1514.48,888.02 L1514.55,889.52 L1514.65,891.02 L1514.74,892.52 L1514.86,894.02 L1515.02,895.52 L1515.24,897.02 L1515.55,898.52 L1515.93,900.02 L1516.37,901.52 L1516.84,903.02 L1517.33,904.52 L1517.84,906.02 L1518.33,907.52 L1518.80,909.02 L1519.24,910.52 L1519.64,912.02 L1520.02,913.52 L1520.40,915.02 L1520.76,916.52 L1521.12,918.02 L1521.47,919.52 L1521.81,921.02 L1522.14,922.52 L1522.47,924.02 L1522.82,925.52 L1523.18,927.02 L1523.55,928.52 L1523.90,930.02 L1524.23,931.52 L1524.52,933.02 L1524.76,934.52 L1524.95,936.02 L1525.06,937.52 L1525.10,939.02 L1525.08,940.52 L1525.01,942.02 L1524.90,943.52 L1524.75,945.02 L1524.57,946.52 L1524.37,948.02 L1524.05,949.52 L1523.67,951.02 L1523.26,952.52 L1522.88,954.02 L1522.58,955.52 L1522.42,957.02 L1522.41,958.52 L1522.50,960.02 L1522.68,961.52 L1522.93,963.02 L1523.28,964.52 L1523.72,966.02 L1524.26,967.52 L1524.90,969.02 L1525.67,970.52 L1526.55,972.02 L1527.52,973.52 L1528.55,975.02 L1529.60,976.52 L1530.65,978.02 L1531.70,979.52 L1532.81,981.02 L1533.96,982.52 L1535.13,984.02 L1536.29,985.52 L1537.43,987.02 L1538.52,988.52 L1539.56,990.02 L1540.59,991.52 L1541.60,993.02 L1542.58,994.52 L1543.52,996.02 L1544.39,997.52 L1545.18,999.02 L1545.90,1000.52 L1546.60,1002.02 L1547.22,1003.52 L1547.70,1005.02 L1547.97,1006.52 L1547.97,1008.02 L1547.74,1009.52 L1547.30,1011.02 L1546.70,1012.52 L1545.98,1014.02 L1545.18,1015.52 L1544.31,1017.02 L1543.36,1018.52 L1542.32,1020.02 L1541.18,1021.52 L1539.94,1023.02 L1538.58,1024.52 L1537.10,1026.02 L1535.40,1027.52 L1533.52,1029.02 L1531.53,1030.52 L1529.50,1032.02 L1527.51,1033.52 L1525.65,1035.02 L1523.96,1036.52 L1522.32,1038.02 L1520.75,1039.52 L1519.31,1041.02 L1518.06,1042.52 L1517.09,1044.02 L1516.45,1045.52 L1516.14,1047.02 L1516.09,1048.52 L1516.29,1050.02 L1516.77,1051.52 L1517.44,1053.02 L1518.19,1054.52 L1518.90,1056.02 L1519.49,1057.52 L1520.07,1059.02 L1520.65,1060.52 L1521.18,1062.02 L1521.61,1063.52 L1521.92,1065.02 L1522.10,1066.52 L1522.20,1068.02 L1522.19,1069.52 L1522.09,1071.02 L1521.89,1072.52 L1521.57,1074.02 L1521.12,1075.52 L1520.58,1077.02 L1520.00,1078.52 L1519.42,1080.02 L1518.84,1081.52 L1518.20,1083.02 L1517.53,1084.52 L1516.90,1086.02 L1516.36,1087.52 L1515.94,1089.02 L1515.62,1090.52 L1515.37,1092.02 L1515.17,1093.52 L1515.01,1095.02 L1514.88,1096.52 L1514.75,1098.02 L1514.63,1099.52 L1514.56,1101.02 L1514.51,1102.52 L1514.48,1104.02 L1514.44,1105.52 L1514.43,1105.86 L1514.02,1105.86 L1514.01,1105.52 L1513.97,1104.02 L1513.94,1102.52 L1513.90,1101.02 L1513.82,1099.52 L1513.70,1098.02 L1513.58,1096.52 L1513.44,1095.02 L1513.28,1093.52 L1513.09,1092.02 L1512.83,1090.52 L1512.51,1089.02 L1512.10,1087.52 L1511.56,1086.02 L1510.92,1084.52 L1510.26,1083.02 L1509.61,1081.52 L1509.03,1080.02 L1508.45,1078.52 L1507.87,1077.02 L1507.33,1075.52 L1506.88,1074.02 L1506.56,1072.52 L1506.37,1071.02 L1506.27,1069.52 L1506.26,1068.02 L1506.35,1066.52 L1506.54,1065.02 L1506.84,1063.52 L1507.28,1062.02 L1507.81,1060.52 L1508.39,1059.02 L1508.97,1057.52 L1509.56,1056.02 L1510.27,1054.52 L1511.02,1053.02 L1511.68,1051.52 L1512.17,1050.02 L1512.37,1048.52 L1512.32,1047.02 L1512.00,1045.52 L1511.36,1044.02 L1510.39,1042.52 L1509.15,1041.02 L1507.71,1039.52 L1506.14,1038.02 L1504.50,1036.52 L1502.81,1035.02 L1500.94,1033.52 L1498.96,1032.02 L1496.93,1030.52 L1494.93,1029.02 L1493.05,1027.52 L1491.35,1026.02 L1489.87,1024.52 L1488.52,1023.02 L1487.28,1021.52 L1486.14,1020.02 L1485.10,1018.52 L1484.15,1017.02 L1483.28,1015.52 L1482.48,1014.02 L1481.76,1012.52 L1481.16,1011.02 L1480.72,1009.52 L1480.48,1008.02 L1480.49,1006.52 L1480.76,1005.02 L1481.23,1003.52 L1481.85,1002.02 L1482.55,1000.52 L1483.28,999.02 L1484.07,997.52 L1484.94,996.02 L1485.87,994.52 L1486.85,993.02 L1487.87,991.52 L1488.90,990.02 L1489.93,988.52 L1491.02,987.02 L1492.16,985.52 L1493.33,984.02 L1494.50,982.52 L1495.65,981.02 L1496.75,979.52 L1497.80,978.02 L1498.86,976.52 L1499.91,975.02 L1500.93,973.52 L1501.90,972.02 L1502.79,970.52 L1503.56,969.02 L1504.20,967.52 L1504.73,966.02 L1505.17,964.52 L1505.52,963.02 L1505.78,961.52 L1505.95,960.02 L1506.04,958.52 L1506.04,957.02 L1505.87,955.52 L1505.58,954.02 L1505.20,952.52 L1504.79,951.02 L1504.40,949.52 L1504.09,948.02 L1503.88,946.52 L1503.71,945.02 L1503.56,943.52 L1503.45,942.02 L1503.37,940.52 L1503.35,939.02 L1503.39,937.52 L1503.51,936.02 L1503.69,934.52 L1503.94,933.02 L1504.23,931.52 L1504.56,930.02 L1504.91,928.52 L1505.27,927.02 L1505.64,925.52 L1505.98,924.02 L1506.31,922.52 L1506.65,921.02 L1506.99,919.52 L1507.34,918.02 L1507.69,916.52 L1508.06,915.02 L1508.43,913.52 L1508.82,912.02 L1509.22,910.52 L1509.65,909.02 L1510.13,907.52 L1510.62,906.02 L1511.12,904.52 L1511.62,903.02 L1512.09,901.52 L1512.52,900.02 L1512.90,898.52 L1513.21,897.02 L1513.44,895.52 L1513.60,894.02 L1513.71,892.52 L1513.81,891.02 L1513.91,889.52 L1513.97,888.02 L1514.02,886.52Z" fill="#bfbfbf" stroke="#bfbfbf" stroke-width="5.6" stroke-linejoin="round"/>
<path d="M1623.90,932.11 L1623.92,933.61 L1623.95,935.11 L1624.02,936.61 L1624.11,938.11 L1624.17,939.61 L1624.24,941.11 L1624.32,942.61 L1624.43,944.11 L1624.59,945.61 L1624.82,947.11 L1625.13,948.61 L1625.55,950.11 L1626.06,951.61 L1626.63,953.11 L1627.26,954.61 L1627.97,956.11 L1628.74,957.61 L1629.58,959.11 L1630.49,960.61 L1631.47,962.11 L1632.53,963.61 L1633.73,965.11 L1635.06,966.61 L1636.48,968.11 L1637.94,969.61 L1639.41,971.11 L1640.85,972.61 L1642.22,974.11 L1643.49,975.61 L1644.66,977.11 L1645.84,978.61 L1646.99,980.11 L1648.10,981.61 L1649.15,983.11 L1650.13,984.61 L1651.01,986.11 L1651.78,987.61 L1652.41,989.11 L1652.90,990.61 L1653.26,992.11 L1653.49,993.61 L1653.61,995.11 L1653.63,996.61 L1653.55,998.11 L1653.40,999.61 L1653.10,1001.11 L1652.65,1002.61 L1652.10,1004.11 L1651.48,1005.61 L1650.84,1007.11 L1650.23,1008.61 L1649.69,1010.11 L1649.13,1011.61 L1648.53,1013.11 L1647.92,1014.61 L1647.36,1016.11 L1646.88,1017.61 L1646.52,1019.11 L1646.35,1020.61 L1646.35,1022.11 L1646.49,1023.61 L1646.75,1025.11 L1647.09,1026.61 L1647.48,1028.11 L1647.88,1029.61 L1648.27,1031.11 L1648.70,1032.61 L1649.20,1034.11 L1649.72,1035.61 L1650.26,1037.11 L1650.78,1038.61 L1651.26,1040.11 L1651.68,1041.61 L1652.06,1043.11 L1652.41,1044.61 L1652.74,1046.11 L1653.04,1047.61 L1653.33,1049.11 L1653.60,1050.61 L1653.86,1052.11 L1654.09,1053.61 L1654.32,1055.11 L1654.52,1056.61 L1654.71,1058.11 L1654.89,1059.61 L1655.04,1061.11 L1655.18,1062.61 L1655.30,1064.11 L1655.41,1065.61 L1655.49,1067.11 L1655.56,1068.61 L1655.60,1070.11 L1655.62,1071.61 L1655.63,1073.11 L1655.62,1074.61 L1655.59,1076.11 L1655.57,1077.61 L1655.53,1079.11 L1655.50,1080.61 L1655.48,1082.11 L1655.45,1083.61 L1655.42,1085.11 L1655.39,1086.61 L1655.34,1088.11 L1655.27,1089.61 L1655.18,1091.11 L1655.07,1092.61 L1654.92,1094.11 L1654.74,1095.61 L1654.54,1097.11 L1654.31,1098.61 L1654.06,1100.11 L1653.80,1101.61 L1653.53,1103.11 L1653.25,1104.61 L1652.98,1106.11 L1652.70,1107.61 L1652.38,1109.11 L1652.04,1110.61 L1651.69,1112.11 L1651.34,1113.61 L1651.01,1115.11 L1650.72,1116.61 L1650.47,1118.11 L1650.28,1119.61 L1650.17,1121.11 L1650.10,1122.61 L1650.09,1124.11 L1650.11,1125.61 L1650.15,1127.11 L1650.19,1128.61 L1650.24,1130.11 L1650.27,1131.61 L1650.28,1133.11 L1650.32,1134.61 L1650.39,1136.11 L1650.47,1137.61 L1650.55,1139.11 L1650.60,1140.61 L1650.60,1142.11 L1650.53,1143.61 L1650.38,1145.11 L1650.13,1146.61 L1649.79,1148.11 L1649.36,1149.61 L1648.83,1151.11 L1648.17,1152.61 L1647.38,1154.11 L1646.42,1155.61 L1645.34,1157.11 L1644.16,1158.61 L1642.94,1160.11 L1641.71,1161.61 L1640.53,1163.11 L1639.42,1164.61 L1638.31,1166.11 L1637.19,1167.61 L1636.07,1169.11 L1634.97,1170.61 L1633.89,1172.11 L1632.86,1173.61 L1631.88,1175.11 L1630.97,1176.61 L1630.14,1178.11 L1629.34,1179.61 L1628.60,1181.11 L1627.90,1182.61 L1627.25,1184.11 L1626.65,1185.61 L1626.11,1187.11 L1625.63,1188.61 L1625.22,1190.11 L1624.88,1191.61 L1624.63,1193.11 L1624.45,1194.61 L1624.32,1196.11 L1624.24,1197.61 L1624.18,1199.11 L1624.13,1200.61 L1624.08,1202.11 L1624.01,1203.61 L1623.95,1205.11 L1623.93,1206.61 L1623.92,1208.11 L1623.91,1209.61 L1623.90,1211.11 L1623.90,1211.79 L1622.97,1211.79 L1622.96,1211.11 L1622.95,1209.61 L1622.95,1208.11 L1622.94,1206.61 L1622.91,1205.11 L1622.86,1203.61 L1622.79,1202.11 L1622.73,1200.61 L1622.69,1199.11 L1622.63,1197.61 L1622.54,1196.11 L1622.42,1194.61 L1622.24,1193.11 L1621.98,1191.61 L1621.65,1190.11 L1621.23,1188.61 L1620.75,1187.11 L1620.21,1185.61 L1619.61,1184.11 L1618.97,1182.61 L1618.27,1181.11 L1617.52,1179.61 L1616.73,1178.11 L1615.89,1176.61 L1614.98,1175.11 L1614.01,1173.61 L1612.97,1172.11 L1611.90,1170.61 L1610.79,1169.11 L1609.67,1167.61 L1608.55,1166.11 L1607.44,1164.61 L1606.33,1163.11 L1605.15,1161.61 L1603.93,1160.11 L1602.70,1158.61 L1601.53,1157.11 L1600.44,1155.61 L1599.48,1154.11 L1598.69,1152.61 L1598.03,1151.11 L1597.50,1149.61 L1597.07,1148.11 L1596.74,1146.61 L1596.48,1145.11 L1596.33,1143.61 L1596.27,1142.11 L1596.27,1140.61 L1596.31,1139.11 L1596.39,1137.61 L1596.47,1136.11 L1596.54,1134.61 L1596.58,1133.11 L1596.59,1131.61 L1596.62,1130.11 L1596.67,1128.61 L1596.72,1127.11 L1596.76,1125.61 L1596.77,1124.11 L1596.76,1122.61 L1596.70,1121.11 L1596.58,1119.61 L1596.39,1118.11 L1596.14,1116.61 L1595.85,1115.11 L1595.52,1113.61 L1595.18,1112.11 L1594.82,1110.61 L1594.48,1109.11 L1594.17,1107.61 L1593.89,1106.11 L1593.61,1104.61 L1593.34,1103.11 L1593.07,1101.61 L1592.81,1100.11 L1592.56,1098.61 L1592.33,1097.11 L1592.12,1095.61 L1591.94,1094.11 L1591.80,1092.61 L1591.68,1091.11 L1591.59,1089.61 L1591.53,1088.11 L1591.48,1086.61 L1591.44,1085.11 L1591.41,1083.61 L1591.39,1082.11 L1591.36,1080.61 L1591.33,1079.11 L1591.30,1077.61 L1591.27,1076.11 L1591.25,1074.61 L1591.24,1073.11 L1591.24,1071.61 L1591.26,1070.11 L1591.30,1068.61 L1591.37,1067.11 L1591.46,1065.61 L1591.56,1064.11 L1591.68,1062.61 L1591.82,1061.11 L1591.98,1059.61 L1592.15,1058.11 L1592.34,1056.61 L1592.55,1055.11 L1592.77,1053.61 L1593.01,1052.11 L1593.26,1050.61 L1593.53,1049.11 L1593.82,1047.61 L1594.13,1046.11 L1594.46,1044.61 L1594.81,1043.11 L1595.18,1041.61 L1595.60,1040.11 L1596.08,1038.61 L1596.60,1037.11 L1597.14,1035.61 L1597.67,1034.11 L1598.16,1032.61 L1598.59,1031.11 L1598.98,1029.61 L1599.38,1028.11 L1599.77,1026.61 L1600.11,1025.11 L1600.37,1023.61 L1600.52,1022.11 L1600.52,1020.61 L1600.34,1019.11 L1599.99,1017.61 L1599.51,1016.11 L1598.94,1014.61 L1598.34,1013.11 L1597.73,1011.61 L1597.17,1010.11 L1596.63,1008.61 L1596.02,1007.11 L1595.39,1005.61 L1594.77,1004.11 L1594.21,1002.61 L1593.76,1001.11 L1593.47,999.61 L1593.31,998.11 L1593.23,996.61 L1593.25,995.11 L1593.37,993.61 L1593.61,992.11 L1593.96,990.61 L1594.45,989.11 L1595.08,987.61 L1595.85,986.11 L1596.73,984.61 L1597.71,983.11 L1598.76,981.61 L1599.88,980.11 L1601.03,978.61 L1602.20,977.11 L1603.38,975.61 L1604.64,974.11 L1606.02,972.61 L1607.46,971.11 L1608.93,969.61 L1610.39,968.11 L1611.80,966.61 L1613.13,965.11 L1614.34,963.61 L1615.40,962.11 L1616.38,960.61 L1617.29,959.11 L1618.13,957.61 L1618.90,956.11 L1619.60,954.61 L1620.24,953.11 L1620.81,951.61 L1621.31,950.11 L1621.73,948.61 L1622.05,947.11 L1622.28,945.61 L1622.44,944.11 L1622.55,942.61 L1622.63,941.11 L1622.69,939.61 L1622.76,938.11 L1622.85,936.61 L1622.91,935.11 L1622.94,933.61 L1622.97,932.11Z" fill="#bfbfbf" stroke="#bfbfbf" stroke-width="9.0" stroke-linejoin="round"/>
<line x1="1360.00" y1="1232.00" x2="1678.80" y2="1232.00" stroke="#000" stroke-width="3.8" stroke-linecap="butt" stroke-dasharray="9.2 8.46"/>
<circle cx="1397.97" cy="1156.99" r="4.90" fill="#464646"/>
<circle cx="1410.25" cy="1156.73" r="4.90" fill="#464646"/>
<circle cx="1397.97" cy="1168.48" r="4.90" fill="#464646"/>
<circle cx="1410.25" cy="1167.18" r="4.90" fill="#464646"/>
<circle cx="1422.79" cy="1164.57" r="4.90" fill="#464646"/>
<circle cx="1435.33" cy="1161.95" r="4.90" fill="#464646"/>
<circle cx="1386.21" cy="1182.33" r="4.90" fill="#464646"/>
<circle cx="1397.97" cy="1188.08" r="4.90" fill="#464646"/>
<circle cx="1410.25" cy="1192.00" r="4.90" fill="#464646"/>
<circle cx="1422.79" cy="1190.69" r="4.90" fill="#464646"/>
<circle cx="1435.33" cy="1192.00" r="4.90" fill="#464646"/>
<circle cx="1447.61" cy="1188.08" r="4.90" fill="#464646"/>
<circle cx="1416.78" cy="1207.93" r="4.90" fill="#464646"/>
<circle cx="1416.78" cy="1178.41" r="4.90" fill="#464646"/>
<circle cx="1441.08" cy="1179.72" r="4.90" fill="#464646"/>
<circle cx="1404.50" cy="1179.72" r="4.90" fill="#464646"/>
<circle cx="1429.32" cy="1179.72" r="4.90" fill="#464646"/>
<circle cx="1514.23" cy="917.16" r="4.90" fill="#464646"/>
<circle cx="1520.76" cy="935.97" r="4.90" fill="#464646"/>
<circle cx="1507.70" cy="942.50" r="4.90" fill="#464646"/>
<circle cx="1514.23" cy="952.95" r="4.90" fill="#464646"/>
<circle cx="1514.23" cy="970.72" r="4.90" fill="#464646"/>
<circle cx="1501.17" cy="985.08" r="4.90" fill="#464646"/>
<circle cx="1514.23" cy="986.39" r="4.90" fill="#464646"/>
<circle cx="1526.77" cy="981.69" r="4.90" fill="#464646"/>
<circle cx="1507.70" cy="995.53" r="4.90" fill="#464646"/>
<circle cx="1482.09" cy="1007.29" r="4.90" fill="#464646"/>
<circle cx="1494.63" cy="1013.30" r="4.90" fill="#464646"/>
<circle cx="1507.70" cy="1009.90" r="4.90" fill="#464646"/>
<circle cx="1533.30" cy="1010.43" r="4.90" fill="#464646"/>
<circle cx="1541.66" cy="1006.77" r="4.90" fill="#464646"/>
<circle cx="1494.63" cy="1024.79" r="4.90" fill="#464646"/>
<circle cx="1507.70" cy="1027.41" r="4.90" fill="#464646"/>
<circle cx="1520.24" cy="1022.97" r="4.90" fill="#464646"/>
<circle cx="1514.23" cy="1063.46" r="4.90" fill="#464646"/>
<circle cx="1514.23" cy="1075.22" r="4.90" fill="#464646"/>
<circle cx="1520.24" cy="1002.07" r="4.90" fill="#464646"/>
<circle cx="1494.63" cy="1002.07" r="4.90" fill="#464646"/>
<circle cx="1533.30" cy="1002.07" r="4.90" fill="#464646"/>
<circle cx="1604.88" cy="990.83" r="4.90" fill="#464646"/>
<circle cx="1623.43" cy="996.84" r="4.90" fill="#464646"/>
<circle cx="1642.24" cy="996.06" r="4.90" fill="#464646"/>
<circle cx="1623.43" cy="1019.05" r="4.90" fill="#464646"/>
<circle cx="1614.29" cy="1043.87" r="4.90" fill="#464646"/>
<circle cx="1632.58" cy="1043.87" r="4.90" fill="#464646"/>
<circle cx="1623.43" cy="1062.94" r="4.90" fill="#464646"/>
<circle cx="1623.43" cy="1080.44" r="4.90" fill="#464646"/>
<circle cx="1604.88" cy="1104.74" r="4.90" fill="#464646"/>
<circle cx="1623.43" cy="1103.43" r="4.90" fill="#464646"/>
<circle cx="1642.24" cy="1111.79" r="4.90" fill="#464646"/>
<circle cx="1623.43" cy="1139.75" r="4.90" fill="#464646"/>
<circle cx="1642.24" cy="1144.97" r="4.90" fill="#464646"/>
<circle cx="1604.88" cy="1153.07" r="4.90" fill="#464646"/>
<line x1="1390.43" y1="1164.04" x2="1442.09" y2="1164.04" stroke="#000" stroke-width="3.2" stroke-linecap="round"/>
<line x1="1385.20" y1="1189.65" x2="1449.40" y2="1189.65" stroke="#000" stroke-width="3.2" stroke-linecap="round"/>
<line x1="1501.46" y1="976.46" x2="1527.00" y2="976.46" stroke="#000" stroke-width="3.2" stroke-linecap="round"/>
<line x1="1488.40" y1="1018.26" x2="1540.06" y2="1018.26" stroke="#000" stroke-width="3.2" stroke-linecap="round"/>
<line x1="1600.74" y1="1018.52" x2="1645.87" y2="1018.52" stroke="#000" stroke-width="3.2" stroke-linecap="round"/>
<line x1="1593.68" y1="1110.49" x2="1652.40" y2="1110.49" stroke="#000" stroke-width="3.2" stroke-linecap="round"/>
<path d="M1385.5,1176.1 L1446.9,1176.1 L1450.5,1184.7 L1382.1,1184.7Z" fill="#ff2a00"/>
<path d="M1484.7,996.7 L1544.0,996.7 L1548.0,1005.8 L1480.0,1005.8Z" fill="#ff2a00"/>
<line x1="1592.08" y1="1072.60" x2="1654.78" y2="1072.60" stroke="#ff2a00" stroke-width="9.3" stroke-linecap="butt"/>
<line x1="1362.70" y1="828.90" x2="1362.70" y2="1285.10" stroke="#000" stroke-width="3.4" stroke-linecap="butt"/>
<line x1="1351.50" y1="1232.20" x2="1362.70" y2="1232.20" stroke="#000" stroke-width="3.6" stroke-linecap="butt"/>
<text x="1322.17" y="1245.88" font-size="36.00" fill="#000" stroke="#000">0</text>
<line x1="1351.50" y1="1151.88" x2="1362.70" y2="1151.88" stroke="#000" stroke-width="3.6" stroke-linecap="butt"/>
<text x="1302.19" y="1165.56" font-size="36.00" fill="#000" stroke="#000">10</text>
<line x1="1351.50" y1="1071.56" x2="1362.70" y2="1071.56" stroke="#000" stroke-width="3.6" stroke-linecap="butt"/>
<text x="1302.19" y="1085.24" font-size="36.00" fill="#000" stroke="#000">20</text>
<line x1="1351.50" y1="991.24" x2="1362.70" y2="991.24" stroke="#000" stroke-width="3.6" stroke-linecap="butt"/>
<text x="1302.19" y="1004.92" font-size="36.00" fill="#000" stroke="#000">30</text>
<line x1="1351.50" y1="910.92" x2="1362.70" y2="910.92" stroke="#000" stroke-width="3.6" stroke-linecap="butt"/>
<text x="1302.19" y="924.60" font-size="36.00" fill="#000" stroke="#000">40</text>
<line x1="1351.50" y1="830.60" x2="1362.70" y2="830.60" stroke="#000" stroke-width="3.6" stroke-linecap="butt"/>
<text x="1302.19" y="844.28" font-size="36.00" fill="#000" stroke="#000">50</text>
<path d="M1513.7,864.9 V841.4 H1624 V864.9" fill="none" stroke="#000" stroke-width="2.6"/>
<text x="1466.77" y="826.50" font-size="34.80" fill="#000" stroke="#000" font-style="italic">p = 3.18e-4</text>
<text transform="translate(1276.70,1152.23) rotate(-90) scale(0.8902,1)" font-size="45.30" fill="#000" stroke="#000">Lump size (kb)</text>
<text x="1248.83" y="1334.20" font-size="44.00" fill="#089608" stroke="#089608">cond I</text>
<text x="1478.58" y="1334.20" font-size="44.00" fill="#089608" stroke="#089608">WT</text>
<text x="1591.37" y="1334.20" font-size="44.00" fill="#089608" stroke="#089608">EQ</text>
<text x="1222.24" y="1395.30" font-size="44.00" fill="#ff00ff" stroke="#ff00ff">topo IIα</text>
<text x="1478.58" y="1395.30" font-size="44.00" fill="#ff00ff" stroke="#ff00ff">WT</text>
<text x="1591.28" y="1395.30" font-size="44.00" fill="#ff00ff" stroke="#ff00ff">WT</text>
<line x1="1404.60" y1="1319.10" x2="1424.90" y2="1319.10" stroke="#000" stroke-width="3.1" stroke-linecap="butt"/>
<line x1="1404.60" y1="1380.00" x2="1424.90" y2="1380.00" stroke="#000" stroke-width="3.1" stroke-linecap="butt"/>
</g>
<g id="panel-g">
<text transform="translate(-0.36,1458.50) scale(1.0280,1)" font-size="79.30" fill="#000" stroke="#000" font-weight="bold">g</text>
<rect x="232.85" y="1474.60" width="68.50" height="386.30" fill="#cfcfcf" stroke="#000" stroke-width="3.2"/>
<rect x="231.25" y="1548.90" width="71.70" height="312.00" fill="#000"/>
<rect x="334.25" y="1474.60" width="69.00" height="386.30" fill="#cfcfcf" stroke="#000" stroke-width="3.2"/>
<rect x="332.65" y="1822.10" width="72.20" height="38.80" fill="#000"/>
<line x1="267.00" y1="1450.60" x2="267.00" y2="1495.90" stroke="#000" stroke-width="3.3" stroke-linecap="butt"/>
<line x1="250.00" y1="1450.60" x2="284.00" y2="1450.60" stroke="#000" stroke-width="3.3" stroke-linecap="round"/>
<line x1="250.00" y1="1495.90" x2="284.00" y2="1495.90" stroke="#000" stroke-width="3.3" stroke-linecap="round"/>
<line x1="267.00" y1="1526.50" x2="267.00" y2="1571.20" stroke="#737373" stroke-width="3.3" stroke-linecap="butt"/>
<line x1="250.00" y1="1526.50" x2="284.00" y2="1526.50" stroke="#737373" stroke-width="3.3" stroke-linecap="round"/>
<line x1="250.00" y1="1571.20" x2="284.00" y2="1571.20" stroke="#737373" stroke-width="3.3" stroke-linecap="round"/>
<line x1="368.60" y1="1465.00" x2="368.60" y2="1483.00" stroke="#000" stroke-width="3.3" stroke-linecap="butt"/>
<line x1="351.40" y1="1465.00" x2="385.80" y2="1465.00" stroke="#000" stroke-width="3.3" stroke-linecap="round"/>
<line x1="351.40" y1="1483.00" x2="385.80" y2="1483.00" stroke="#000" stroke-width="3.3" stroke-linecap="round"/>
<line x1="368.60" y1="1813.30" x2="368.60" y2="1831.90" stroke="#737373" stroke-width="3.3" stroke-linecap="butt"/>
<line x1="351.40" y1="1813.30" x2="385.80" y2="1813.30" stroke="#737373" stroke-width="3.3" stroke-linecap="round"/>
<line x1="351.40" y1="1831.90" x2="385.80" y2="1831.90" stroke="#737373" stroke-width="3.3" stroke-linecap="round"/>
<line x1="206.20" y1="1452.10" x2="206.20" y2="1862.60" stroke="#000" stroke-width="3.4" stroke-linecap="butt"/>
<line x1="200.00" y1="1860.90" x2="440.50" y2="1860.90" stroke="#000" stroke-width="3.4" stroke-linecap="butt"/>
<line x1="197.10" y1="1783.38" x2="206.20" y2="1783.38" stroke="#000" stroke-width="3.4" stroke-linecap="butt"/>
<line x1="197.10" y1="1705.86" x2="206.20" y2="1705.86" stroke="#000" stroke-width="3.4" stroke-linecap="butt"/>
<line x1="197.10" y1="1628.34" x2="206.20" y2="1628.34" stroke="#000" stroke-width="3.4" stroke-linecap="butt"/>
<line x1="197.10" y1="1550.82" x2="206.20" y2="1550.82" stroke="#000" stroke-width="3.4" stroke-linecap="butt"/>
<line x1="197.10" y1="1473.30" x2="206.20" y2="1473.30" stroke="#000" stroke-width="3.4" stroke-linecap="butt"/>
<text x="161.27" y="1868.68" font-size="36.00" fill="#000" stroke="#000">0</text>
<text x="141.29" y="1793.18" font-size="36.00" fill="#000" stroke="#000">20</text>
<text x="141.29" y="1720.28" font-size="36.00" fill="#000" stroke="#000">40</text>
<text x="141.29" y="1641.48" font-size="36.00" fill="#000" stroke="#000">60</text>
<text x="141.29" y="1564.88" font-size="36.00" fill="#000" stroke="#000">80</text>
<text x="121.22" y="1484.28" font-size="36.00" fill="#000" stroke="#000">100</text>
<text transform="translate(114.00,1762.76) rotate(-90) scale(0.9197,1)" font-size="45.30" fill="#000" stroke="#000">% of lumps</text>
<text x="88.33" y="1919.10" font-size="44.00" fill="#089608" stroke="#089608">cond I</text>
<text x="236.08" y="1919.10" font-size="44.00" fill="#089608" stroke="#089608">WT</text>
<text x="342.37" y="1919.10" font-size="44.00" fill="#089608" stroke="#089608">EQ</text>
<text x="62.94" y="1980.50" font-size="44.00" fill="#ff00ff" stroke="#ff00ff">topo IIα</text>
<text x="236.08" y="1980.50" font-size="44.00" fill="#ff00ff" stroke="#ff00ff">WT</text>
<text x="344.88" y="1980.50" font-size="44.00" fill="#ff00ff" stroke="#ff00ff">WT</text>
<rect x="446.40" y="1564.10" width="257.10" height="127.40" fill="#fff" stroke="#000" stroke-width="2.6"/>
<rect x="467.70" y="1582.00" width="35.90" height="35.00" fill="#cfcfcf" stroke="#000" stroke-width="3.2"/>
<rect x="466.10" y="1637.40" width="39.10" height="38.60" fill="#000"/>
<text x="519.03" y="1611.80" font-size="42.40" fill="#000" stroke="#000">sensitive</text>
<text x="515.64" y="1673.60" font-size="42.40" fill="#000" stroke="#000">resistant</text>
</g>
</svg>
</body></html>
